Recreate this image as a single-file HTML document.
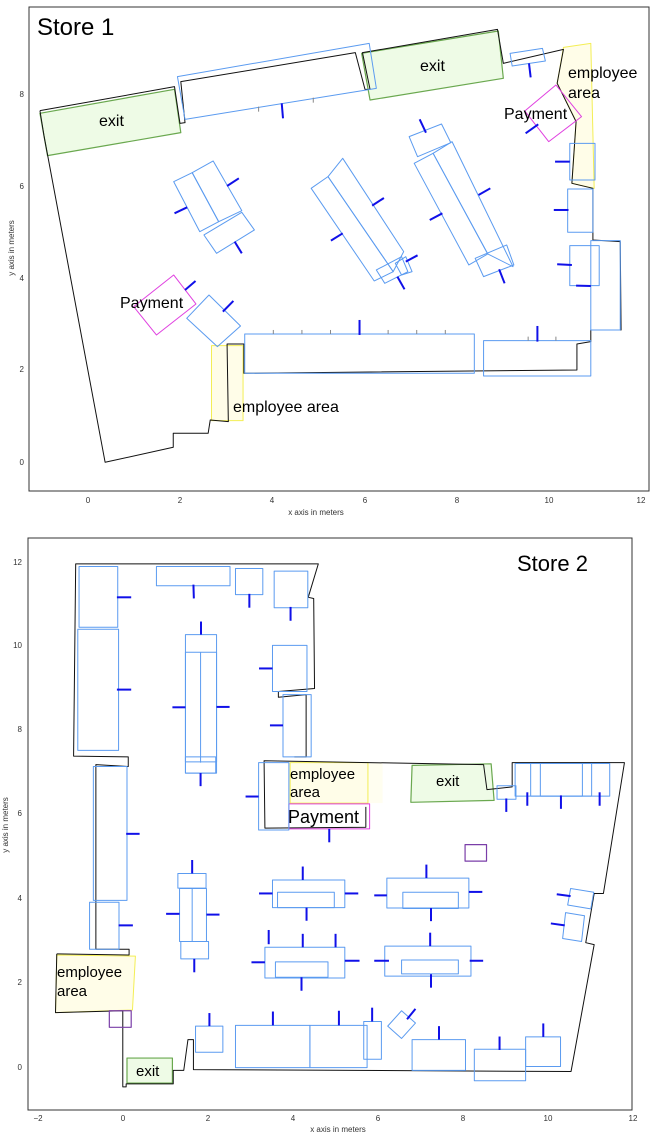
<!DOCTYPE html>
<html><head><meta charset="utf-8"><style>
html,body{margin:0;padding:0;background:#fff;}
svg{display:block;}
text{font-family:"Liberation Sans","DejaVu Sans",sans-serif;}
.s *{vector-effect:non-scaling-stroke;}
</style></head><body>
<svg width="656" height="1133" viewBox="0 0 656 1133" xmlns="http://www.w3.org/2000/svg">
<!-- ================= STORE 1 ================= -->
<rect x="29" y="7" width="620" height="484" fill="none" stroke="#333" stroke-width="1"/>
<g class="s" transform="scale(0.4205,0.3333)" fill="none" stroke-linejoin="round">
 <!-- exits -->
 <polygon points="95,340 415,268 430,398 113,467" fill="#eefbe6" stroke="#6aa84f" stroke-width="1.2"/>
 <polygon points="860,160 1185,93 1197,235 880,300" fill="#eefbe6" stroke="#6aa84f" stroke-width="1.2"/>
 <!-- yellow -->
 <polygon points="1340,142 1405,130 1413,565 1360,550 1370,365 1325,250" fill="#fffde8" stroke="#f3ee55" stroke-width="1"/>
 <rect x="503" y="1037" width="75" height="225" fill="#fffde8" stroke="#f3ee55" stroke-width="1"/>
 <!-- outline -->
 <polyline points="95,332 415,260 428,370 440,368 430,245 845,158 868,268 880,268 862,158 1183,88 1197,190 1340,148 1325,250 1370,365 1360,550 1410,565 1410,720 1475,725 1477,990 1405,990 1405,1025 1372,1032 1372,1110 580,1120 580,1032 540,1032 543,1265 500,1260 495,1300 412,1300 412,1342 250,1387 105,410 95,332" stroke="#111" stroke-width="1"/>
 <!-- payment -->
 <polygon points="1322,255 1383,350 1305,425 1248,333" stroke="#e040e0" stroke-width="1"/>
 <polygon points="413,825 466,912 372,1005 318,920" stroke="#e040e0" stroke-width="1"/>
 <g stroke="#5b9bf0" stroke-width="1">
  <polygon points="422,230 878,130 895,265 440,358"/>
  <polygon points="1213,160 1290,145 1297,183 1218,198"/>
  <rect x="1355" y="430" width="60" height="110"/>
  <rect x="1350" y="567" width="60" height="130"/>
  <rect x="1355" y="737" width="70" height="120"/>
  <rect x="1405" y="722" width="70" height="268"/>
  <rect x="1150" y="1022" width="255" height="106"/>
  <rect x="582" y="1002" width="546" height="118"/>
  <polygon points="497,885 572,978 517,1040 444,955"/>
  <polygon points="413,545 457,518 520,665 475,695"/>
  <polygon points="457,518 507,483 575,632 520,665"/>
  <polygon points="485,705 575,637 605,690 515,760"/>
  <polygon points="740,565 780,530 935,815 890,843"/>
  <polygon points="780,530 815,475 960,755 935,815"/>
  <polygon points="895,810 955,770 970,815 915,850"/>
  <polygon points="940,790 965,770 980,815 955,825"/>
  <polygon points="973,410 1050,372 1072,428 993,470"/>
  <polygon points="985,490 1030,460 1160,762 1115,795"/>
  <polygon points="1030,460 1075,425 1220,800 1160,762"/>
  <polygon points="1130,775 1205,735 1222,795 1150,830"/>
 </g>
 <g stroke="#888" stroke-width="1">
  <line x1="650" y1="990" x2="650" y2="1002"/><line x1="718" y1="990" x2="718" y2="1002"/><line x1="786" y1="990" x2="786" y2="1002"/>
  <line x1="923" y1="990" x2="923" y2="1002"/><line x1="991" y1="990" x2="991" y2="1002"/><line x1="1059" y1="990" x2="1059" y2="1002"/>
  <line x1="1256" y1="1010" x2="1256" y2="1022"/><line x1="1322" y1="1010" x2="1322" y2="1022"/>
  <line x1="615" y1="320" x2="615" y2="335"/><line x1="745" y1="293" x2="745" y2="308"/>
 </g>
 <g stroke="#1010e8" stroke-width="2">
  <line x1="855" y1="960" x2="855" y2="1005"/>
  <line x1="1278" y1="978" x2="1278" y2="1025"/>
  <line x1="670" y1="310" x2="673" y2="355"/>
  <line x1="1258" y1="190" x2="1262" y2="232"/>
  <line x1="1250" y1="400" x2="1280" y2="373"/>
  <line x1="1320" y1="485" x2="1355" y2="485"/>
  <line x1="1317" y1="630" x2="1352" y2="630"/>
  <line x1="1325" y1="793" x2="1360" y2="795"/>
  <line x1="1370" y1="857" x2="1405" y2="858"/>
  <line x1="540" y1="558" x2="568" y2="535"/>
  <line x1="415" y1="640" x2="445" y2="622"/>
  <line x1="558" y1="725" x2="575" y2="760"/>
  <line x1="885" y1="617" x2="913" y2="594"/>
  <line x1="787" y1="722" x2="815" y2="700"/>
  <line x1="965" y1="785" x2="993" y2="766"/>
  <line x1="945" y1="830" x2="962" y2="868"/>
  <line x1="998" y1="358" x2="1013" y2="398"/>
  <line x1="1138" y1="585" x2="1166" y2="565"/>
  <line x1="1022" y1="660" x2="1052" y2="640"/>
  <line x1="1187" y1="808" x2="1200" y2="850"/>
  <line x1="440" y1="870" x2="465" y2="843"/>
  <line x1="530" y1="935" x2="555" y2="903"/>
 </g>
</g>
<g font-size="8" fill="#333" text-anchor="middle">
 <text x="88" y="503">0</text><text x="180" y="503">2</text><text x="272" y="503">4</text><text x="365" y="503">6</text><text x="457" y="503">8</text><text x="549" y="503">10</text><text x="641" y="503">12</text>
 <text x="316" y="515">x axis in meters</text>
</g>
<g font-size="8" fill="#333" text-anchor="end">
 <text x="24" y="465">0</text><text x="24" y="372">2</text><text x="24" y="281">4</text><text x="24" y="189">6</text><text x="24" y="97">8</text>
</g>
<text x="14" y="248" font-size="8" fill="#333" text-anchor="middle" transform="rotate(-90 14 248)">y axis in meters</text>
<text x="37" y="35" font-size="24" fill="#000">Store 1</text>
<g font-size="16" fill="#000">
 <text x="99" y="126">exit</text><text x="420" y="71">exit</text>
 <text x="568" y="78">employee</text><text x="568" y="98">area</text>
 <text x="504" y="119">Payment</text><text x="120" y="308">Payment</text>
 <text x="233" y="412">employee area</text>
</g>

<!-- ================= STORE 2 ================= -->
<rect x="28" y="538" width="604" height="572" fill="none" stroke="#333" stroke-width="1"/>
<g class="s" transform="translate(0,530) scale(0.4205,0.3846)" fill="none" stroke-linejoin="round">
 <polygon points="980,612 1168,608 1175,703 977,708" fill="#eefbe6" stroke="#6aa84f" stroke-width="1.2"/>
 <rect x="302" y="1373" width="108" height="65" fill="#eefbe6" stroke="#6aa84f" stroke-width="1.2"/>
 <rect x="690" y="605" width="220" height="105" fill="#fffef0" stroke="none"/>
 <rect x="690" y="605" width="185" height="105" fill="#fffde8" stroke="#f3ee55" stroke-width="1"/>
 <polygon points="135,1105 322,1108 315,1248 132,1255" fill="#fffde8" stroke="#f3ee55" stroke-width="1"/>
 <g stroke="#111" stroke-width="1">
  <polyline points="1150,610 628,600 630,775 870,773 870,720"/>
  <polyline points="135,1102 307,1105 307,1090 228,1090 228,610 305,615 305,590 175,588 180,88 757,88 733,175 746,178 748,412 662,420 662,435 728,428 728,590 700,590"/>
  <polyline points="135,1102 132,1255 292,1250 292,1448 300,1448 300,1440 412,1440 412,1405 437,1405 447,1325 460,1325 460,1403 1358,1408 1413,1078 1393,1073 1413,945 1435,945 1485,605 1218,605 1218,668 1158,675 1150,610"/>
 </g>
 <rect x="687" y="712" width="192" height="65" stroke="#e040e0" stroke-width="1"/>
 <rect x="1106" y="818" width="51" height="43" stroke="#7a3ea8" stroke-width="1.2"/>
 <rect x="260" y="1250" width="52" height="43" stroke="#7a3ea8" stroke-width="1.2"/>
 <g stroke="#5b9bf0" stroke-width="1">
  <rect x="188" y="95" width="92" height="158"/><rect x="185" y="258" width="97" height="315"/>
  <rect x="222" y="615" width="80" height="348"/><rect x="213" y="968" width="70" height="122"/>
  <rect x="372" y="95" width="175" height="50"/><rect x="560" y="100" width="65" height="68"/>
  <rect x="652" y="107" width="80" height="95"/><rect x="648" y="300" width="82" height="120"/>
  <rect x="673" y="428" width="67" height="162"/><rect x="441" y="272" width="74" height="360"/>
  <rect x="441" y="318" width="74" height="285"/><line x1="477" y1="318" x2="477" y2="605"/>
  <rect x="441" y="590" width="72" height="42"/><rect x="615" y="605" width="72" height="175"/>
  <rect x="423" y="893" width="67" height="38"/><rect x="427" y="932" width="64" height="138"/>
  <line x1="457" y1="932" x2="457" y2="1070"/><rect x="430" y="1070" width="66" height="45"/>
  <rect x="648" y="910" width="172" height="72"/><rect x="660" y="942" width="135" height="40"/>
  <rect x="920" y="905" width="195" height="78"/><rect x="958" y="942" width="132" height="42"/>
  <rect x="630" y="1085" width="190" height="80"/><rect x="655" y="1123" width="125" height="40"/>
  <rect x="915" y="1082" width="205" height="78"/><rect x="955" y="1118" width="135" height="36"/>
  <rect x="1182" y="665" width="45" height="35"/><rect x="1225" y="607" width="225" height="85"/>
  <rect x="1262" y="607" width="145" height="85"/><rect x="1285" y="607" width="100" height="85"/>
  <rect x="980" y="1325" width="127" height="80"/><rect x="1128" y="1350" width="122" height="82"/>
  <rect x="1250" y="1318" width="83" height="77"/><rect x="560" y="1288" width="177" height="110"/>
  <rect x="737" y="1288" width="136" height="110"/><rect x="865" y="1278" width="42" height="98"/>
  <rect x="465" y="1290" width="65" height="68"/>
  <polygon points="955,1250 988,1282 955,1322 922,1290"/>
  <polygon points="1357,932 1412,942 1405,985 1350,975"/>
  <polygon points="1345,995 1390,1003 1383,1070 1338,1062"/>
 </g>
 <g stroke="#1010e8" stroke-width="2">
  <line x1="278" y1="175" x2="312" y2="175"/><line x1="278" y1="415" x2="312" y2="415"/>
  <line x1="300" y1="790" x2="332" y2="790"/><line x1="282" y1="1028" x2="316" y2="1028"/>
  <line x1="460" y1="142" x2="461" y2="178"/><line x1="593" y1="166" x2="593" y2="202"/>
  <line x1="691" y1="200" x2="691" y2="236"/><line x1="478" y1="238" x2="478" y2="272"/>
  <line x1="410" y1="461" x2="441" y2="461"/><line x1="515" y1="460" x2="546" y2="460"/>
  <line x1="477" y1="632" x2="477" y2="666"/><line x1="616" y1="360" x2="648" y2="360"/>
  <line x1="642" y1="508" x2="673" y2="508"/><line x1="584" y1="693" x2="615" y2="693"/>
  <line x1="783" y1="777" x2="783" y2="812"/><line x1="457" y1="858" x2="457" y2="893"/>
  <line x1="395" y1="998" x2="427" y2="998"/><line x1="491" y1="1000" x2="522" y2="1000"/>
  <line x1="462" y1="1115" x2="462" y2="1150"/><line x1="720" y1="875" x2="720" y2="910"/>
  <line x1="616" y1="945" x2="648" y2="945"/><line x1="820" y1="945" x2="852" y2="945"/>
  <line x1="729" y1="982" x2="729" y2="1016"/><line x1="1014" y1="870" x2="1014" y2="905"/>
  <line x1="890" y1="950" x2="920" y2="950"/><line x1="1115" y1="941" x2="1147" y2="941"/>
  <line x1="1025" y1="983" x2="1025" y2="1017"/><line x1="639" y1="1040" x2="639" y2="1077"/>
  <line x1="720" y1="1050" x2="720" y2="1085"/><line x1="798" y1="1050" x2="798" y2="1085"/>
  <line x1="598" y1="1124" x2="630" y2="1124"/><line x1="820" y1="1120" x2="855" y2="1120"/>
  <line x1="717" y1="1163" x2="717" y2="1198"/><line x1="1023" y1="1047" x2="1023" y2="1082"/>
  <line x1="890" y1="1120" x2="925" y2="1120"/><line x1="1117" y1="1120" x2="1149" y2="1120"/>
  <line x1="1025" y1="1155" x2="1025" y2="1190"/><line x1="498" y1="1256" x2="498" y2="1290"/>
  <line x1="649" y1="1252" x2="649" y2="1288"/><line x1="806" y1="1250" x2="806" y2="1288"/>
  <line x1="885" y1="1242" x2="885" y2="1278"/><line x1="968" y1="1272" x2="988" y2="1245"/>
  <line x1="1044" y1="1290" x2="1044" y2="1325"/><line x1="1188" y1="1317" x2="1188" y2="1352"/>
  <line x1="1292" y1="1283" x2="1292" y2="1318"/><line x1="1204" y1="698" x2="1204" y2="733"/>
  <line x1="1254" y1="682" x2="1254" y2="717"/><line x1="1334" y1="690" x2="1334" y2="725"/>
  <line x1="1426" y1="682" x2="1426" y2="717"/><line x1="1324" y1="947" x2="1357" y2="952"/>
  <line x1="1310" y1="1023" x2="1343" y2="1028"/>
 </g>
</g>
<g font-size="8" fill="#333" text-anchor="middle">
 <text x="38" y="1121">−2</text><text x="123" y="1121">0</text><text x="208" y="1121">2</text><text x="293" y="1121">4</text><text x="378" y="1121">6</text><text x="463" y="1121">8</text><text x="548" y="1121">10</text><text x="633" y="1121">12</text>
 <text x="338" y="1132">x axis in meters</text>
</g>
<g font-size="8" fill="#333" text-anchor="end">
 <text x="22" y="1070">0</text><text x="22" y="985">2</text><text x="22" y="901">4</text><text x="22" y="816">6</text><text x="22" y="732">8</text><text x="22" y="648">10</text><text x="22" y="565">12</text>
</g>
<text x="8" y="825" font-size="8" fill="#333" text-anchor="middle" transform="rotate(-90 8 825)">y axis in meters</text>
<text x="517" y="571" font-size="22" fill="#000">Store 2</text>
<g font-size="15" fill="#000">
 <text x="290" y="779">employee</text><text x="290" y="797">area</text>
 <text x="436" y="786">exit</text><text x="136" y="1076">exit</text>
 <text x="57" y="977">employee</text><text x="57" y="996">area</text>
</g>
<text x="288" y="823" font-size="18" fill="#000">Payment</text>
</svg>
</body></html>
